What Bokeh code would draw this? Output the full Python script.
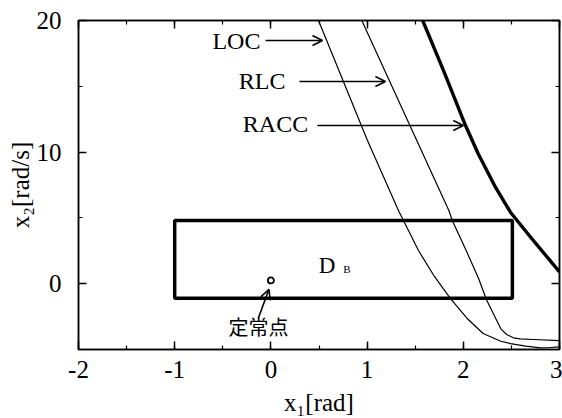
import math
from bokeh.plotting import figure
from bokeh.models import (SingleIntervalTicker, LinearAxis, Label, Arrow, OpenHead, Range1d)
from bokeh.embed import file_html
from bokeh.resources import INLINE

# ---- data ----
loc_x = [0.495, 1.004, 1.326, 1.378, 1.534, 1.70, 1.867, 2.04, 2.206, 2.39, 2.49, 2.65, 2.80, 2.90, 3.0]
loc_y = [20.0, 10.88, 5.56, 4.80, 2.52, 0.55, -1.13, -2.64, -3.78, -4.37, -4.55, -4.75, -4.88, -4.85, -4.80]

rlc_x = [0.945, 1.452, 1.85, 1.885, 2.03, 2.16, 2.24, 2.39, 2.45, 2.52, 2.59, 2.73, 3.0]
rlc_y = [20.0, 11.9, 5.56, 4.80, 2.52, 0.37, -1.2, -3.43, -3.86, -4.11, -4.19, -4.24, -4.32]

racc_x = [1.578, 1.80, 2.023, 2.155, 2.325, 2.49, 2.70, 3.0]
racc_y = [20.0, 16.1, 12.02, 9.87, 7.46, 5.43, 3.53, 0.9]

box_x = [-1.0, 2.51]     # D_B region, x extent
box_y = [-1.1, 4.8]      # D_B region, y extent

eq_x = [0.0]             # equilibrium point
eq_y = [0.25]

x_range = (-2, 3)
y_range = (-5, 20)
x_tick_labels = {-2: "-2", -1: "-1", 0: "0", 1: "1", 2: "2", 3: "3"}
y_tick_labels = {0: "0", 10: "10", 20: "20"}

SERIF = "Liberation Serif"

p = figure(frame_width=481, frame_height=329,
           min_border_left=78, min_border_right=3, min_border_top=20, min_border_bottom=69,
           x_range=Range1d(*x_range), y_range=Range1d(*y_range),
           output_backend="svg", toolbar_location=None, tools="")
p.background_fill_color = "white"
p.border_fill_color = "white"
p.grid.visible = False
p.outline_line_color = "black"
p.outline_line_width = 1.5

p.xaxis.ticker = SingleIntervalTicker(interval=1, num_minor_ticks=2)
p.yaxis.ticker = SingleIntervalTicker(interval=10, num_minor_ticks=2)

def style_axis(ax, show_labels=True):
    ax.axis_line_color = "black"
    ax.axis_line_width = 1.5
    ax.major_tick_in = 8
    ax.major_tick_out = 0
    ax.minor_tick_in = 4
    ax.minor_tick_out = 0
    ax.major_tick_line_width = 1.5
    ax.minor_tick_line_width = 1.2
    ax.major_tick_line_color = "black"
    ax.minor_tick_line_color = "black"
    if show_labels:
        ax.major_label_text_font = SERIF
        ax.major_label_text_font_size = "25px"
        ax.major_label_text_color = "black"
        ax.axis_label_text_font = SERIF
        ax.axis_label_text_font_style = "normal"
        ax.axis_label_text_color = "black"
    else:
        ax.major_label_text_color = None
        ax.major_label_standoff = 0

for ax in p.xaxis:
    style_axis(ax)
    ax.major_label_standoff = 11
    ax.major_label_overrides = x_tick_labels
    ax.axis_label = "x₁[rad]"
    ax.axis_label_text_font_size = "25px"
    ax.axis_label_standoff = 8
for ax in p.yaxis:
    style_axis(ax)
    ax.major_label_standoff = 17
    ax.major_label_overrides = y_tick_labels
    ax.axis_label = "x₂[rad/s]"
    ax.axis_label_text_font_size = "25px"
    ax.axis_label_standoff = 0

top_ax = LinearAxis(ticker=SingleIntervalTicker(interval=1, num_minor_ticks=2))
style_axis(top_ax, False)
p.add_layout(top_ax, "above")
right_ax = LinearAxis(ticker=SingleIntervalTicker(interval=10, num_minor_ticks=2))
style_axis(right_ax, False)
p.add_layout(right_ax, "right")

# curves
p.line(loc_x, loc_y, line_color="black", line_width=1.2, line_join="round")
p.line(rlc_x, rlc_y, line_color="black", line_width=1.2, line_join="round")
p.line(racc_x, racc_y, line_color="black", line_width=3.4, line_join="round")

# D_B box
p.quad(left=[box_x[0]], right=[box_x[1]], bottom=[box_y[0]], top=[box_y[1]],
       fill_color=None, line_color="black", line_width=3.5)

# equilibrium point
p.scatter(eq_x, eq_y, size=6, marker="circle", fill_color="white",
          line_color="black", line_width=1.8)

# annotations
def lab(x, y, text, size, font=SERIF):
    p.add_layout(Label(x=x, y=y, text=text, text_font=font, text_font_size=size,
                       text_align="center", text_baseline="middle",
                       text_color="black"))

def arr(x0, y0, x1, y1):
    p.add_layout(Arrow(x_start=x0, y_start=y0, x_end=x1, y_end=y1,
                       line_width=1.6, line_color="black",
                       end=OpenHead(size=10, line_width=1.6, line_color="black")))

lab(-0.358, 18.46, "LOC", "24px")
arr(-0.056, 18.48, 0.536, 18.48)
lab(-0.092, 15.40, "RLC", "24px")
arr(0.297, 15.37, 1.19, 15.37)
lab(0.048, 12.14, "RACC", "24px")
arr(0.484, 12.02, 2.0, 12.02)

lab(0.583, 1.42, "D", "23px")
lab(0.79, 1.12, "B", "11px")

lab(-0.129, -3.29, "定常点", "20px", font="Noto Sans CJK JP")
arr(-0.13, -2.6, -0.02, -0.42)

open("out.html", "w").write(file_html(p, INLINE))
